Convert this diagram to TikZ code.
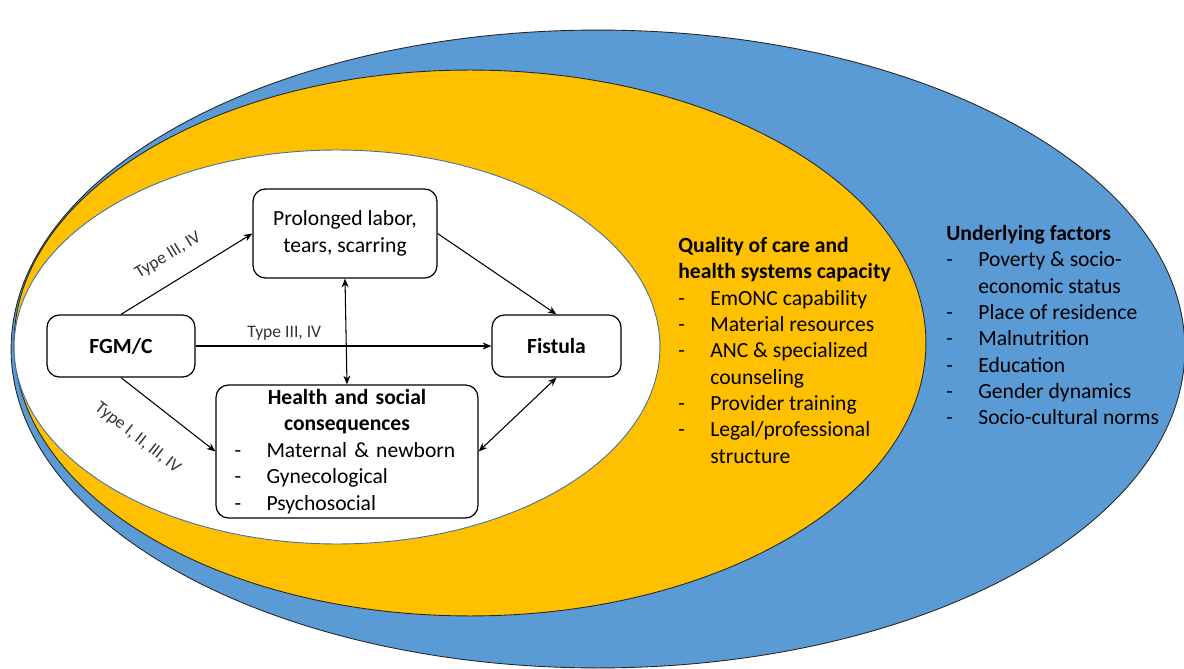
\documentclass[tikz,border=0pt]{standalone}
\usepackage{fontspec}
\setmainfont{Carlito}
\usetikzlibrary{arrows.meta}

\definecolor{ringblue}{HTML}{5B9BD5}
\definecolor{ringgold}{HTML}{FFC000}
\definecolor{innerline}{HTML}{41719C}
\newcommand{\itm}[1]{\makebox[0.64cm][l]{-}#1}
\newcommand{\cont}[1]{\hspace*{0.64cm}#1}

\begin{document}
\begin{tikzpicture}[
    x=0.02cm, y=-0.02cm,
    ring/.style={draw=black!85, line width=0.5pt},
    box/.style={draw=black, line width=0.7pt, rounded corners=7pt,
        fill=white, align=center, inner sep=0pt,
        font=\fontsize{12.3}{15}\selectfont},
    edge/.style={line width=0.6pt, -{Stealth[length=5pt, width=4pt]}},
    twoway/.style={line width=0.6pt,
        {Stealth[length=5pt, width=4pt]}-{Stealth[length=5pt, width=4pt]}},
    tag/.style={font=\fontsize{10}{12}\selectfont, text=black!80, inner sep=1pt},
    listing/.style={anchor=north west, align=left, inner sep=0pt,
        font=\fontsize{12.3}{15}\selectfont}
]
    \useasboundingbox (0,0) rectangle (1184,669);
    \draw[ring, fill=ringblue] (598,349) ellipse [x radius=11.74cm, y radius=6.38cm];
    \draw[ring, fill=ringgold] (470,343) ellipse [x radius=9.12cm, y radius=5.46cm];
    \draw[innerline, line width=0.5pt, fill=white] (337,347) ellipse [x radius=6.46cm, y radius=3.94cm];

    \node[box, minimum width=2.96cm, minimum height=1.24cm] (fgm) at (121,346) {\textbf{FGM/C}};
    \node[box, minimum width=3.68cm, minimum height=1.78cm] (prol) at (345,233.5) {Prolonged labor,\\ tears, scarring};
    \node[box, minimum width=2.58cm, minimum height=1.24cm] (fist) at (556.5,346) {\textbf{Fistula}};
    \node[box, minimum width=5.24cm, minimum height=2.66cm, align=left, text width=4.5cm] (hsc) at (347,451.5)
        {\makebox[\linewidth]{\textbf{Health and social}}\\
         \makebox[\linewidth]{\textbf{consequences}}\\
         \itm{Maternal \& newborn}\\
         \itm{Gynecological}\\
         \itm{Psychosocial}};

    \node[listing] (qual) at (678,237)
        {\textbf{Quality of care and}\\
         \textbf{health systems capacity}\\
         \itm{EmONC capability}\\
         \itm{Material resources}\\
         \itm{ANC \& specialized}\\
         \cont{counseling}\\
         \itm{Provider training}\\
         \itm{Legal/professional}\\
         \cont{structure}};
    \node[listing] (under) at (946,225)
        {\textbf{Underlying factors}\\
         \itm{Poverty \& socio-}\\
         \cont{economic status}\\
         \itm{Place of residence}\\
         \itm{Malnutrition}\\
         \itm{Education}\\
         \itm{Gender dynamics}\\
         \itm{Socio-cultural norms}};

    \draw[edge] (fgm.north) -- node[tag, sloped, above, pos=0.46, yshift=9pt] {Type III, IV} (prol.west);
    \draw[edge] (fgm.east) -- node[tag, above, pos=0.3, yshift=2pt] {Type III, IV} (fist.west);
    \draw[edge] (fgm.south) -- node[tag, sloped, below, pos=0.42, yshift=-16pt] {Type I, II, III, IV} (hsc.west);
    \draw[edge] (prol.east) -- (fist.north);
    \draw[twoway] (prol.south) -- (hsc.north);
    \draw[twoway] (fist.south) -- (hsc.east);
\end{tikzpicture}
\end{document}
